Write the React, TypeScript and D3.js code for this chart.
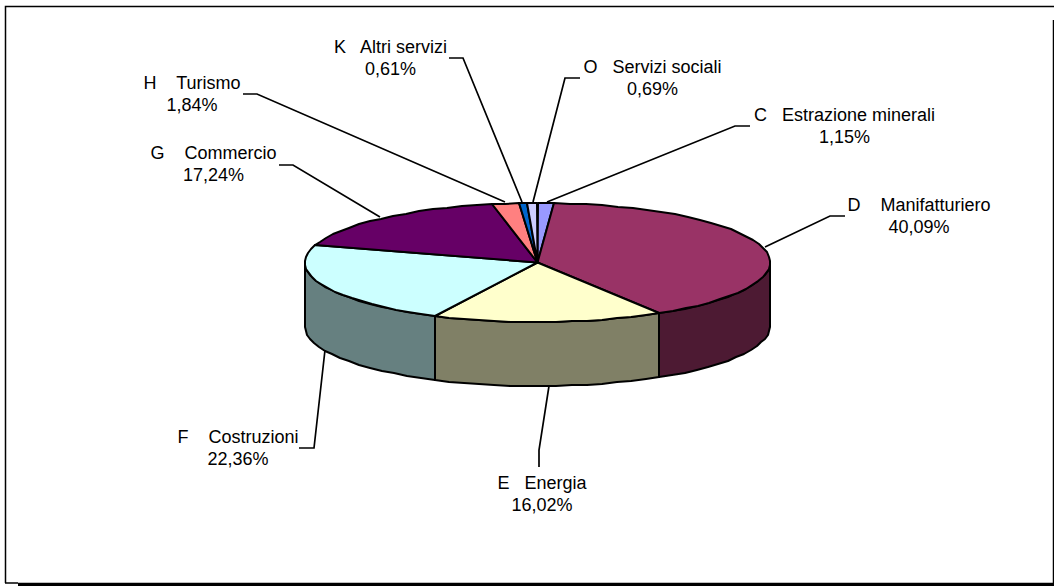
import React from "react";
import * as d3 from "d3";

const categories = ["C   Estrazione minerali", "D    Manifatturiero", "E   Energia", "F    Costruzioni", "G    Commercio", "H    Turismo", "K   Altri servizi", "O   Servizi sociali"];
const values = [1.15, 40.09, 16.02, 22.36, 17.24, 1.84, 0.61, 0.69];
const valueLabels = ["1,15%", "40,09%", "16,02%", "22,36%", "17,24%", "1,84%", "0,61%", "0,69%"];
const topColors = ["#9999FF", "#993366", "#FFFFCC", "#CCFFFF", "#660066", "#FF8080", "#0066CC", "#CCCCFF"];
const sideColors = ["#4D4D80", "#4D1A33", "#808066", "#668080", "#330033", "#804040", "#003366", "#666680"];
const labelX = [844.5, 919, 542, 238, 213.5, 192, 390.5, 652.5];
const labelY = [121, 211, 489, 443, 159, 89, 53, 73];
const leaders = [
  "750,126 735,126 547,202",
  "845,216 830,216 765,247",
  "549,386 539,450 539,467",
  "325,350 314,448 299,448",
  "279,165 293,165 380,217",
  "243,94 257,94 505,202",
  "449,58 463,58 522,202",
  "580,78 565,78 533,202",
];

const W = 1054, H = 586;
const cx = 537.5, cy = 262.5, rx = 232.5, ry = 59.5, depth = 64;
const px = (a: number) => Math.round(cx + rx * Math.sin(a));
const py = (a: number) => Math.round(cy - ry * Math.cos(a));

const pie = d3.pie<number>().sort(null).startAngle(0).endAngle(2 * Math.PI);
const arcs = pie(values);

function rimPoints(a0: number, a1: number, dy = 0): [number, number][] {
  const n = Math.max(2, Math.ceil((a1 - a0) / 0.07));
  return d3.range(n + 1).map((i) => {
    const a = a0 + ((a1 - a0) * i) / n;
    return [px(a), py(a) + dy] as [number, number];
  });
}
const line = d3.line();

export default function App() {
  return (
    <svg width={W} height={H} style={{ position: "absolute", left: 0, top: 0, background: "#fff" }} fontFamily="'Liberation Sans', Arial, sans-serif" fontSize={18}>
      <g fill="none" stroke="#000">
        <polyline points="5.5,583 5.5,6.5 1054,6.5" strokeWidth={1.5} />
        <line x1={1053.5} y1={20} x2={1053.5} y2={H} strokeWidth={1.5} />
        <line x1={5} y1={583} x2={18} y2={583} strokeWidth={1.5} />
        <line x1={18} y1={584.5} x2={W} y2={584.5} strokeWidth={3.5} />
      </g>
      {arcs.map((d, i) => {
        const a0 = Math.max(d.startAngle, Math.PI / 2);
        const a1 = Math.min(d.endAngle, 1.5 * Math.PI);
        if (a1 <= a0) return null;
        const top = rimPoints(a0, a1);
        const bottom = rimPoints(a0, a1, depth).reverse();
        return <path key={"s" + i} d={line([...top, ...bottom]) + "Z"} fill={sideColors[i]} stroke="#000" strokeWidth={2} strokeLinejoin="round" />;
      })}
      {arcs.map((d, i) => (
        <path key={"t" + i} d={line([[cx, cy], ...rimPoints(d.startAngle, d.endAngle)]) + "Z"} fill={topColors[i]} stroke="#000" strokeWidth={2} strokeLinejoin="round" />
      ))}
      {leaders.map((p, i) => (
        <polyline key={"l" + i} points={p} fill="none" stroke="#000" strokeWidth={1.7} />
      ))}
      {categories.map((c, i) => (
        <text key={c} textAnchor="middle" fill="#000" style={{ whiteSpace: "pre" }}>
          <tspan x={labelX[i]} y={labelY[i]}>{c}</tspan>
          <tspan x={labelX[i]} y={labelY[i] + 22}>{valueLabels[i]}</tspan>
        </text>
      ))}
    </svg>
  );
}
